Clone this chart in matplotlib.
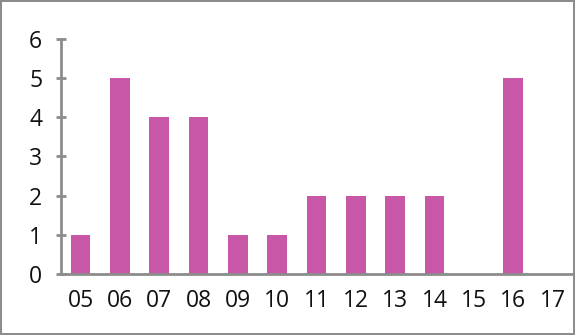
import matplotlib
matplotlib.use('Agg')
import matplotlib.pyplot as plt
import numpy as np

# Data
labels = ['05', '06', '07', '08', '09', '10', '11', '12', '13', '14', '15', '16', '17']
values = [1, 5, 4, 4, 1, 1, 2, 2, 2, 2, 0, 5, 0]

bar_color = '#C957A8'
axis_color = '#8C8C8C'

fig = plt.figure(figsize=(5.75, 3.35), dpi=100)
fig.patch.set_edgecolor('#8C8C8C')
fig.patch.set_linewidth(1.5)
ax = fig.add_axes([0.106, 0.182, 0.889, 0.702])

x = np.arange(len(labels))
ax.bar(x, values, width=0.5, color=bar_color)

ax.set_xlim(-0.5, len(labels) - 0.5)
ax.set_ylim(0, 6)
ax.set_yticks(range(0, 7))
ax.set_xticks(x)
ax.set_xticklabels(labels)

for side in ['top', 'right']:
    ax.spines[side].set_visible(False)
for side in ['left', 'bottom']:
    ax.spines[side].set_color(axis_color)
    ax.spines[side].set_linewidth(2)

ax.tick_params(axis='y', direction='inout', length=7, width=2, color=axis_color,
               labelsize=16.5, pad=10)
ax.tick_params(axis='x', length=0, labelsize=16.5, pad=11)
for lab in ax.get_xticklabels() + ax.get_yticklabels():
    lab.set_fontfamily('Open Sans')
    lab.set_color('#111111')

fig.savefig('out.png', dpi=100, edgecolor=fig.get_edgecolor())
